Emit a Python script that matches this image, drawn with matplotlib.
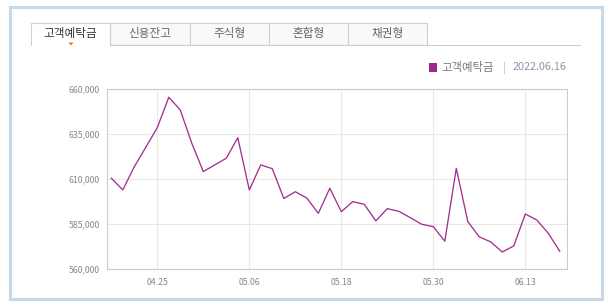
import matplotlib
matplotlib.use("Agg")
import matplotlib.pyplot as plt
from matplotlib.patches import Rectangle, Polygon
from matplotlib.ticker import FuncFormatter

plt.rcParams['font.family'] = ['Noto Sans CJK KR', 'DejaVu Sans']

# =========================
# Data (won)
# =========================
dates = ["04.19", "04.20", "04.21", "04.22", "04.25", "04.26", "04.27", "04.28", "04.29",
         "05.02", "05.03", "05.04", "05.06", "05.09", "05.10", "05.11", "05.12", "05.13",
         "05.16", "05.17", "05.18", "05.19", "05.20", "05.23", "05.24", "05.25", "05.26",
         "05.27", "05.30", "05.31", "06.02", "06.03", "06.07", "06.08", "06.09", "06.10",
         "06.13", "06.14", "06.15", "06.16"]
deposits = [610600, 604100, 617000, 627800, 638700, 655600, 648500, 630000, 614300,
            618000, 621700, 633100, 604100, 618000, 615900, 599300, 603100, 599600,
            591100, 605000, 592000, 597600, 596100, 586900, 593700, 592200, 588700,
            585000, 583700, 575600, 616100, 586500, 578000, 575200, 569600, 573000,
            590700, 587400, 580000, 570000]
tick_dates = ["04.25", "05.06", "05.18", "05.30", "06.13"]
yticks = [560000, 585000, 610000, 635000, 660000]
tabs = ["고객예탁금", "신용잔고", "주식형", "혼합형", "채권형"]
series_name = "고객예탁금"
as_of = "2022.06.16"

W, H = 611, 306
fig = plt.figure(figsize=(W / 100, H / 100), dpi=100)

# background layer in pixel coordinates
bg = fig.add_axes([0, 0, 1, 1])
bg.set_xlim(0, W)
bg.set_ylim(H, 0)
bg.axis("off")

# outer box
bg.add_patch(Rectangle((9.5, 6.5), 592, 292, fill=False, edgecolor="#c6d8ec", linewidth=2.2))

# tabs
tab_edges = [31, 110, 190, 269, 348, 427]
for k, name in enumerate(tabs):
    x0, x1 = tab_edges[k], tab_edges[k + 1]
    if k == 0:
        bg.plot([x0, x0, x1, x1], [45, 22.5, 22.5, 45], color="#cfcfcf", lw=0.8)
        col = "#333333"
    else:
        bg.add_patch(Rectangle((x0, 22.5), x1 - x0, 22.5, facecolor="#f9f9f9",
                               edgecolor="#cfcfcf", linewidth=0.8))
        col = "#666666"
    bg.text((x0 + x1) / 2, 34, name, ha="center", va="center", fontsize=8.4, color=col)
bg.plot([110, 580], [45, 45], color="#cfcfcf", lw=0.8)
bg.add_patch(Polygon([[68.5, 42.5], [73.5, 42.5], [71, 45.5]], closed=True,
                     facecolor="#ff6a13", edgecolor="none"))

# legend
bg.add_patch(Rectangle((428.5, 63), 8.5, 8.5, facecolor="#a0288c", edgecolor="none"))
bg.text(441, 67.5, series_name, ha="left", va="center", fontsize=8.2, color="#777777")
bg.text(504, 67.5, "|", ha="center", va="center", fontsize=8, color="#e0b890")
bg.text(513, 67.5, as_of, ha="left", va="center", fontsize=7.8, color="#8a96a8")

# main chart
ax = fig.add_axes([106.7 / W, 1 - 269.3 / H, 460 / W, 180 / H])
x = list(range(len(dates)))
ax.plot(x, deposits, color="#a3318f", lw=0.95, zorder=3)
ax.set_xlim(-0.4, 39.6)
ax.set_ylim(560000, 660000)
ax.set_yticks(yticks)
ax.yaxis.set_major_formatter(FuncFormatter(lambda v, p: f"{int(v):,}"))
ax.set_xticks([dates.index(d) for d in tick_dates])
ax.set_xticklabels(tick_dates)
ax.grid(True, color="#e8e8e8", lw=0.8, zorder=0)
ax.set_axisbelow(True)
for s in ax.spines.values():
    s.set_color("#cccccc")
    s.set_linewidth(0.8)
ax.tick_params(axis="both", length=0, labelsize=6.3, colors="#888888")
ax.tick_params(axis="y", pad=5)
ax.tick_params(axis="x", pad=6)

fig.savefig("out.png", dpi=100)
